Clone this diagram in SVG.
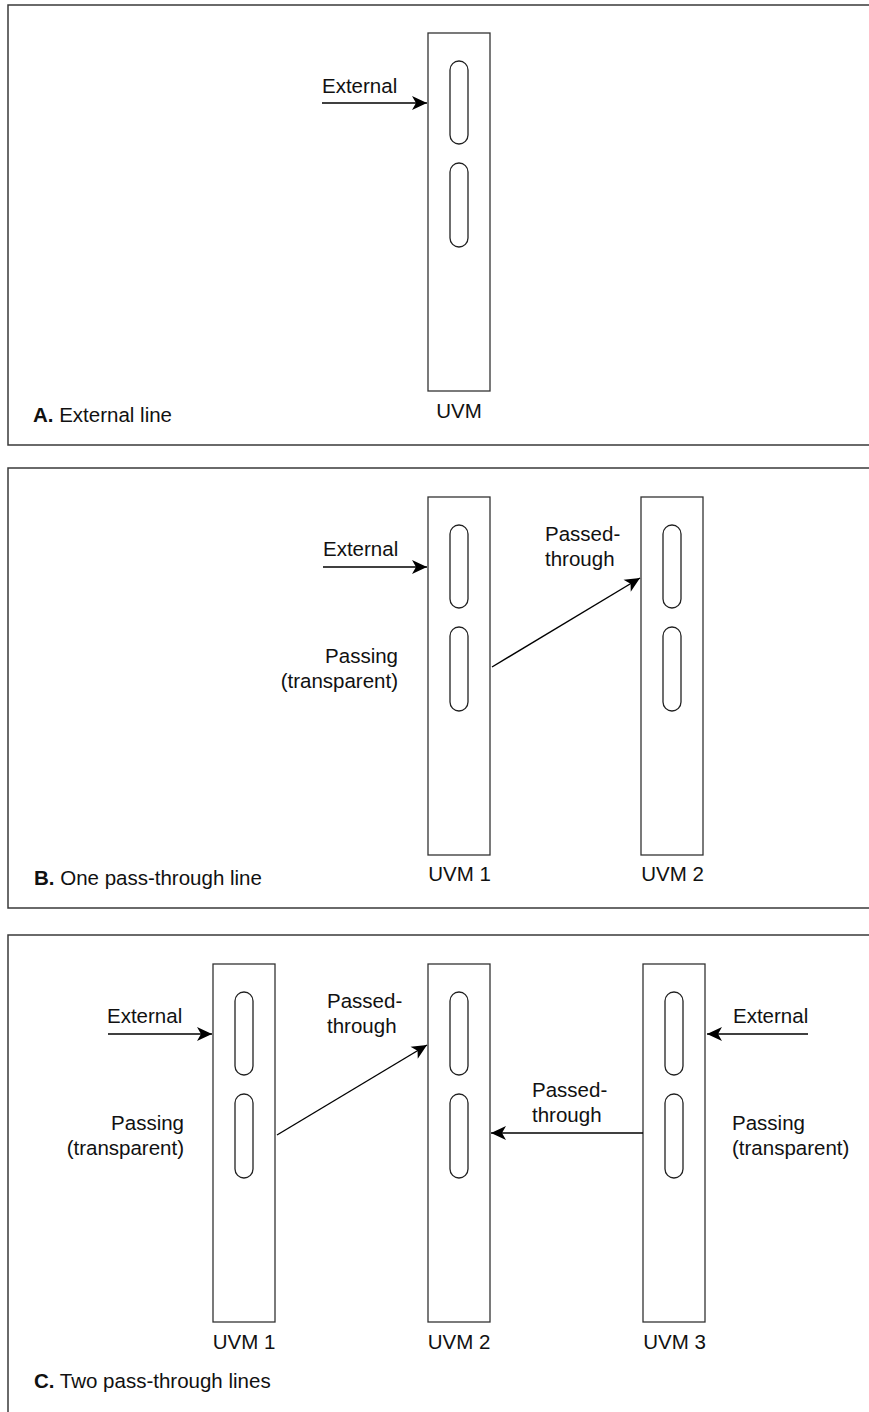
<svg xmlns="http://www.w3.org/2000/svg" width="869" height="1412" viewBox="0 0 869 1412">
  <style>
    .frame { fill: none; stroke: #3a3a3a; stroke-width: 1.5; }
    .uvm { fill: #ffffff; stroke: #333333; stroke-width: 1.3; }
    .slot { fill: #ffffff; stroke: #222222; stroke-width: 1.3; }
    .wire { fill: none; stroke: #000000; stroke-width: 1.4; marker-end: url(#head); }
    text { font-family: "Liberation Sans", Arial, Helvetica, sans-serif; font-size: 20.5px; fill: #111111; }
    .mid { text-anchor: middle; }
    .end { text-anchor: end; }
    .b { font-weight: bold; }
  </style>
  <defs>
    <marker id="head" viewBox="-16 -8 17 16" refX="0" refY="0" markerWidth="17" markerHeight="16" markerUnits="userSpaceOnUse" orient="auto">
      <path d="M0,0 L-15,-7 L-11,0 L-15,7 Z" fill="#000000"/>
    </marker>
    <!-- one UVM card: outer frame plus two oblong slots -->
    <g id="card">
      <rect class="uvm" x="0" y="0" width="62" height="358"/>
      <rect class="slot" x="22" y="28" width="18" height="83" rx="9" ry="9"/>
      <rect class="slot" x="22" y="130" width="18" height="84" rx="9" ry="9"/>
    </g>
  </defs>

  <!-- panel frames (open on the right) -->
  <g id="frames">
    <path class="frame" d="M869,5 H8 V445 H869"/>
    <path class="frame" d="M869,468 H8 V908 H869"/>
    <path class="frame" d="M869,935 H8 V1412"/>
  </g>

  <!-- Panel A -->
  <g id="a-uvm">
    <use href="#card" x="428" y="33"/>
    <text class="mid" x="459" y="418">UVM</text>
  </g>
  <g id="a-caption">
    <text x="33" y="422"><tspan class="b">A.</tspan> External line</text>
  </g>

  <!-- Panel B -->
  <g id="b-uvm1">
    <use href="#card" x="428" y="497"/>
    <text class="mid" x="459.5" y="881">UVM 1</text>
  </g>
  <g id="b-uvm2">
    <use href="#card" x="641" y="497"/>
    <text class="mid" x="672.5" y="881">UVM 2</text>
  </g>
  <g id="b-caption">
    <text x="34" y="885"><tspan class="b">B.</tspan> One pass-through line</text>
  </g>

  <!-- Panel C -->
  <g id="c-uvm1">
    <use href="#card" x="213" y="964"/>
    <text class="mid" x="244" y="1349">UVM 1</text>
  </g>
  <g id="c-uvm2">
    <use href="#card" x="428" y="964"/>
    <text class="mid" x="459" y="1349">UVM 2</text>
  </g>
  <g id="c-uvm3">
    <use href="#card" x="643" y="964"/>
    <text class="mid" x="674.5" y="1349">UVM 3</text>
  </g>
  <g id="c-caption">
    <text x="34" y="1388"><tspan class="b">C.</tspan> Two pass-through lines</text>
  </g>

  <!-- connectors -->
  <g id="connectors">
    <line class="wire" x1="322" y1="103" x2="427" y2="103"/>

    <line class="wire" x1="323" y1="567" x2="427" y2="567"/>
    <line class="wire" x1="492" y1="667" x2="640" y2="578"/>

    <line class="wire" x1="108" y1="1034" x2="212" y2="1034"/>
    <line class="wire" x1="277" y1="1135" x2="427" y2="1045"/>
    <line class="wire" x1="643" y1="1133" x2="491" y2="1133"/>
    <line class="wire" x1="808" y1="1034" x2="707" y2="1034"/>
  </g>

  <!-- connector labels -->
  <g id="labels">
    <text x="322" y="93">External</text>

    <text x="323" y="556">External</text>
    <text x="545" y="541">Passed-</text>
    <text x="545" y="566">through</text>
    <text class="end" x="398" y="663">Passing</text>
    <text class="end" x="398" y="688">(transparent)</text>

    <text x="107" y="1023">External</text>
    <text x="327" y="1008">Passed-</text>
    <text x="327" y="1033">through</text>
    <text class="end" x="184" y="1130">Passing</text>
    <text class="end" x="184" y="1155">(transparent)</text>
    <text x="532" y="1097">Passed-</text>
    <text x="532" y="1122">through</text>
    <text x="733" y="1023">External</text>
    <text x="732" y="1130">Passing</text>
    <text x="732" y="1155">(transparent)</text>
  </g>
</svg>
